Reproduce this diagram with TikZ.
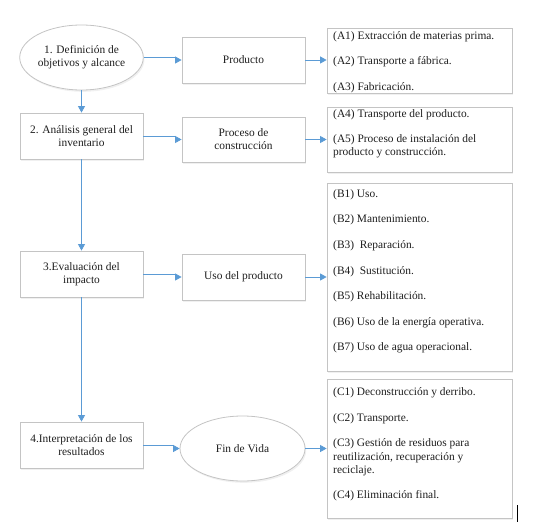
\documentclass[tikz,border=0pt]{standalone}
\usepackage{fontspec}
\setmainfont{Liberation Serif}
\usetikzlibrary{shapes.geometric,arrows.meta,shadows}
\definecolor{conn}{HTML}{5B9BD5}
\definecolor{frame}{HTML}{C4C4C4}
\definecolor{txt}{HTML}{1E1E1E}
\tikzset{
  base/.style={draw=frame, line width=0.8pt, fill=white, text=txt, align=center,
    font=\fontsize{11.4}{12.8}\selectfont,
    drop shadow={opacity=0.12, shadow xshift=1.2pt, shadow yshift=-1.8pt}},
  stepbox/.style={base, rectangle, minimum width=123pt, minimum height=46pt, inner sep=1pt},
  oval/.style={base, ellipse, inner sep=0pt},
  listbox/.style={base, rectangle, minimum width=185pt, inner sep=0pt},
  listtxt/.style={anchor=north west, inner sep=0pt, align=left, text=txt,
    font=\fontsize{11.4}{12.8}\selectfont},
  link/.style={draw=conn, line width=0.8pt, -{Triangle[length=6.5pt,width=7pt]}}
}
\begin{document}
\begin{tikzpicture}[x=1pt,y=-1pt]
\useasboundingbox (0,0) rectangle (545,529);
% left column
\node[oval, minimum width=123pt, minimum height=65pt] (e1) at (81.5,57.5) {1. Definición de\\objetivos y alcance};
\node[stepbox] (b2) at (81.5,136) {2. Análisis general del\\inventario};
\node[stepbox] (b3) at (81.5,274) {3.Evaluación del\\impacto};
\node[stepbox] (b4) at (81.5,445) {4.Interpretación de los\\resultados};
% middle column
\node[stepbox] (prod) at (243.5,60) {Producto};
\node[stepbox, minimum height=45pt] (proc) at (243.5,139.5) {Proceso de\\construcción};
\node[stepbox] (uso) at (243.5,277) {Uso del producto};
\node[oval, minimum width=125pt, minimum height=65pt] (fin) at (242.5,448.5) {Fin de Vida};
% right column
\node[listbox, minimum height=65pt] (la) at (419.5,60.5) {};
\node[listbox, minimum height=65pt] (la4) at (419.5,139.5) {};
\node[listbox, minimum height=188pt] (lb) at (419.5,277) {};
\node[listbox, minimum height=139pt] (lc) at (419.5,448.5) {};
\node[listtxt] (ta) at (333,31.2) {(A1) Extracción de materias prima.\\[12.8pt]
(A2) Transporte a fábrica.\\[12.8pt]
(A3) Fabricación.};
\node[listtxt] (ta4) at (333,109.2) {(A4) Transporte del producto.\\[12.8pt]
(A5) Proceso de instalación del\\
producto y construcción.};
\node[listtxt] (tb) at (333,189.2) {(B1) Uso.\\[12.8pt]
(B2) Mantenimiento.\\[12.8pt]
(B3)\ \ Reparación.\\[12.8pt]
(B4)\ \ Sustitución.\\[12.8pt]
(B5) Rehabilitación.\\[12.8pt]
(B6) Uso de la energía operativa.\\[12.8pt]
(B7) Uso de agua operacional.};
\node[listtxt, font=\fontsize{11.4}{13.3}\selectfont] (tc) at (333,387.2) {(C1) Deconstrucción y derribo.\\[12.4pt]
(C2) Transporte.\\[12.4pt]
(C3) Gestión de residuos para\\
reutilización, recuperación y\\
reciclaje.\\[11.6pt]
(C4) Eliminación final.};
% connectors
\draw[link] (e1.south) -- (b2.north);
\draw[link] (b2.south) -- (b3.north);
\draw[link] (b3.south) -- (b4.north);
\draw[link] (e1.east) -- ++(32,0) |- (prod.west);
\draw[link] (b2.east) -- ++(32,0) |- (proc.west);
\draw[link] (b3.east) -- ++(32,0) |- (uso.west);
\draw[link] (b4.east) -- ++(30,0) |- (fin.west);
\draw[link] (prod.east) -- (prod.east -| la.west);
\draw[link] (proc.east) -- (proc.east -| la4.west);
\draw[link] (uso.east) -- (uso.east -| lb.west);
\draw[link] (fin.east) -- (fin.east -| lc.west);
% stray cursor mark
\draw[black, line width=0.8pt] (517,505) -- (517,522);
\end{tikzpicture}
\end{document}
